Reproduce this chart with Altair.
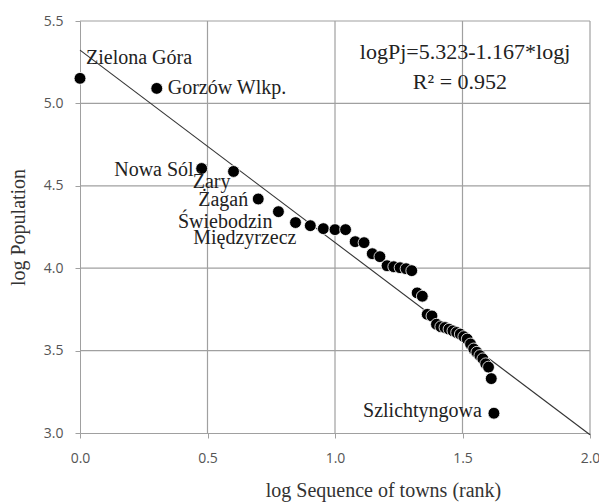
import altair as alt
import pandas as pd
import numpy as np

ranks = list(range(1, 43))
log_pop = [5.152, 5.091, 4.605, 4.587, 4.42, 4.343, 4.277, 4.258, 4.24, 4.234,
           4.234, 4.161, 4.155, 4.088, 4.07, 4.015, 4.009, 4.003, 3.997, 3.985,
           3.85, 3.83, 3.72, 3.71, 3.66, 3.645, 3.64, 3.63, 3.62, 3.61,
           3.60, 3.585, 3.57, 3.54, 3.51, 3.49, 3.47, 3.45, 3.42, 3.40,
           3.33, 3.12]

label_rank = [1, 2, 3, 4, 5, 6, 7, 42]
label_text = ["Zielona Góra", "Gorzów Wlkp.", "Nowa Sól", "Żary", "Żagań",
              "Świebodzin", "Międzyrzecz", "Szlichtyngowa"]
label_align = ["left", "left", "right", "right", "right", "right", "right", "right"]
label_dx = [6, 11, -8, -3, -10, -6, 1, -12]
label_dy = [-20, 0, 2, 11, 1, 10, 15, -2]

x_ticks = [0.0, 0.5, 1.0, 1.5, 2.0]
y_ticks = [3.0, 3.5, 4.0, 4.5, 5.0, 5.5]

intercept = 5.323
slope = -1.167
line_x = [0.0, 2.0]

df = pd.DataFrame({"lx": np.log10(ranks), "ly": log_pop})
lab = pd.DataFrame({
    "lx": np.log10(label_rank),
    "ly": [log_pop[r - 1] for r in label_rank],
    "name": label_text,
})
line_df = pd.DataFrame({"lx": line_x, "ly": [intercept + slope * v for v in line_x]})
eq_df = pd.DataFrame({"lx": [1.51, 1.49], "ly": [5.31, 5.13],
                      "t": ["logPj=5.323-1.167*logj", "R\u00b2\u00a0=\u00a00.952"]})

xs = alt.Scale(domain=[0, 2], nice=False, zero=False)
ys = alt.Scale(domain=[3, 5.5], nice=False, zero=False)

x_axis = alt.Axis(values=x_ticks, format=".1f", grid=False,
                  labelFlush=False,
                  title="log Sequence of towns (rank)", titleX=303, titleY=57,
                  titleBaseline="middle", titleAnchor="middle")
y_axis = alt.Axis(values=y_ticks, format=".1f", grid=False,
                  labelFlush=False,
                  title="log Population", titleX=-62, titleY=206,
                  titleBaseline="middle", titleAnchor="middle")

gridcol = "#a0a0a0"
vgrid = alt.Chart(pd.DataFrame({"gx": x_ticks[1:]})).mark_rule(
    color=gridcol, strokeWidth=1.2).encode(
    x=alt.X("gx:Q", scale=xs), y=alt.value(0), y2=alt.value(412))
hgrid = alt.Chart(pd.DataFrame({"gy": y_ticks[1:]})).mark_rule(
    color=gridcol, strokeWidth=1.2).encode(
    y=alt.Y("gy:Q", scale=ys), x=alt.value(0), x2=alt.value(510))

points = alt.Chart(df).mark_circle(size=140, opacity=1, color="black",
                                   stroke="white", strokeWidth=0.8).encode(
    x=alt.X("lx:Q", scale=xs, axis=x_axis),
    y=alt.Y("ly:Q", scale=ys, axis=y_axis),
)
line = alt.Chart(line_df).mark_line(color="#333333", strokeWidth=1.1).encode(
    x=alt.X("lx:Q", scale=xs), y=alt.Y("ly:Q", scale=ys))

texts = []
for i in range(len(label_text)):
    sub = lab.iloc[[i]]
    texts.append(alt.Chart(sub).mark_text(
        align=label_align[i], baseline="middle", dx=label_dx[i], dy=label_dy[i],
        font="Liberation Serif", fontSize=20, color="#222222").encode(
        x=alt.X("lx:Q", scale=xs), y=alt.Y("ly:Q", scale=ys), text="name:N"))

eq = alt.Chart(eq_df).mark_text(align="center", baseline="middle",
                                font="Liberation Serif", fontSize=22,
                                color="#222222").encode(
    x=alt.X("lx:Q", scale=xs), y=alt.Y("ly:Q", scale=ys), text="t:N")

chart = alt.layer(vgrid, hgrid, line, points, *texts, eq).properties(
    width=510, height=412,
    autosize=alt.AutoSizeParams(type="none"),
    padding={"left": 72, "top": 13, "right": 9, "bottom": 69},
).configure_view(stroke=None).configure_axis(
    domainColor=gridcol, tickColor=gridcol, tickSize=5,
    labelFont="Open Sans", labelFontSize=14, labelColor="#555555",
    titleFont="Liberation Serif", titleFontSize=20, titleColor="#333333",
    titleFontWeight="normal",
).configure_axisX(labelPadding=13).configure_axisY(labelPadding=12)

chart.save("out.html", embed_options={"renderer": "svg", "actions": False})
